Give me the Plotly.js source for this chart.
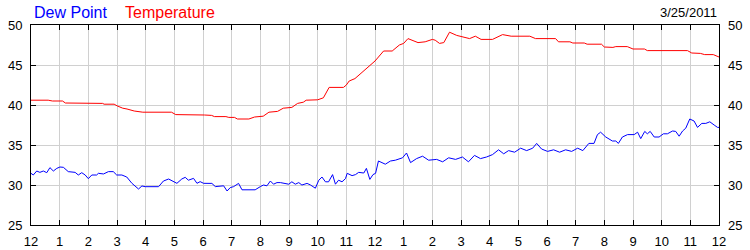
<!DOCTYPE html>
<html>
<head>
<meta charset="utf-8">
<script src="https://cdn.plot.ly/plotly-3.0.1.min.js"></script>
<style>html,body{margin:0;padding:0;background:#fff;}#chart{width:750px;height:250px;}</style>
</head>
<body>
<div id="chart"></div>
<script>
// Hour positions (0 = midnight) and their labels
const hourTicks = [0,1,2,3,4,5,6,7,8,9,10,11,12,13,14,15,16,17,18,19,20,21,22,23,24];
const hourLabels = ['12','1','2','3','4','5','6','7','8','9','10','11','12','1','2','3','4','5','6','7','8','9','10','11','12'];
const yTicks = [25,30,35,40,45,50];

// Temperature series (hours, °F)
const tempHours = [0,0.6,0.75,1.1,1.2,2.5,2.55,2.9,3.0,3.2,3.35,3.6,3.9,4.9,5.05,5.95,6.05,6.3,6.4,6.8,6.9,7.1,7.2,7.6,7.8,8.1,8.3,8.6,8.8,9.1,9.3,9.5,9.6,10.0,10.2,10.4,10.9,11.0,11.1,11.3,11.5,11.8,12.0,12.3,12.6,12.85,13.0,13.15,13.5,13.75,14.0,14.1,14.25,14.4,14.6,14.85,15.3,15.5,15.7,16.1,16.45,16.75,17.4,17.6,18.3,18.4,18.8,18.9,19.3,19.4,19.9,20.0,20.3,20.4,20.8,21.0,21.4,21.5,22.9,23.05,23.35,23.5,23.8,24.0];
const tempValues = [40.6,40.6,40.5,40.5,40.25,40.2,40.1,40.1,39.9,39.6,39.5,39.25,39.1,39.1,38.8,38.8,38.75,38.7,38.55,38.55,38.45,38.45,38.25,38.25,38.5,38.6,39.1,39.2,39.6,39.7,40.2,40.35,40.6,40.65,40.9,42.2,42.2,42.5,43.0,43.3,43.9,44.8,45.5,46.75,46.75,47.5,47.7,48.3,47.8,47.9,48.2,48.1,47.7,47.8,49.1,48.7,48.3,48.6,48.2,48.2,48.8,48.6,48.6,48.3,48.3,47.9,47.9,47.75,47.75,47.6,47.6,47.25,47.2,47.3,47.3,47.0,47.0,46.8,46.8,46.5,46.45,46.3,46.3,46.0];

// Dew point series (hours, °F)
const dewHours = [0,0.08,0.2,0.31,0.43,0.55,0.66,0.78,0.9,1.01,1.13,1.3,1.54,1.65,1.77,1.89,2.0,2.12,2.29,2.35,2.53,2.7,2.87,2.99,3.17,3.34,3.52,3.75,3.87,3.98,4.45,4.62,4.8,4.97,5.09,5.26,5.38,5.49,5.67,5.79,5.9,6.02,6.14,6.31,6.43,6.6,6.72,6.84,6.95,7.07,7.24,7.36,7.82,8.0,8.11,8.23,8.35,8.46,8.58,8.7,8.81,8.99,9.1,9.22,9.34,9.45,9.63,9.75,9.92,10.04,10.15,10.27,10.38,10.52,10.62,10.73,10.85,10.97,11.03,11.2,11.32,11.43,11.61,11.7,11.82,11.93,12.02,12.12,12.36,12.54,12.71,12.96,13.1,13.24,13.45,13.66,13.87,14.15,14.36,14.57,14.81,15.05,15.26,15.47,15.68,15.89,16.1,16.31,16.49,16.66,16.87,17.08,17.29,17.5,17.64,17.81,18.02,18.23,18.44,18.65,18.86,19.07,19.25,19.46,19.64,19.76,19.87,20.05,20.28,20.4,20.49,20.63,20.81,21.04,21.16,21.27,21.41,21.5,21.6,21.74,21.91,22.06,22.2,22.38,22.49,22.61,22.73,22.84,22.98,23.13,23.25,23.4,23.54,23.68,23.83,23.95,24.0];
const dewValues = [31.46,31.25,31.75,31.58,31.75,31.54,32.17,31.75,32.08,32.25,32.21,31.67,31.58,31.25,31.54,31.25,30.79,31.25,31.25,31.46,31.38,31.67,31.67,31.25,31.25,31.0,30.21,29.5,29.88,29.79,29.79,30.5,30.75,30.42,30.21,30.75,30.96,30.6,30.83,30.21,30.42,30.21,30.2,30.2,29.8,29.9,29.9,29.25,29.67,29.8,30.2,29.4,29.4,29.8,30.0,29.9,30.5,30.1,30.3,30.3,30.2,30.1,30.4,30.1,30.3,30.0,30.2,30.0,29.6,30.6,31.0,30.4,30.4,31.3,30.1,30.6,30.4,30.8,31.46,31.17,31.3,31.58,31.5,32.08,30.7,31.3,31.46,33.0,32.6,33.0,33.1,33.4,34.0,32.8,33.3,33.6,33.1,33.2,32.9,33.4,33.2,33.5,32.9,33.7,33.3,33.5,33.8,34.4,33.9,34.3,34.1,34.6,34.3,34.6,35.2,34.5,34.2,34.4,34.1,34.4,34.2,34.6,34.3,35.2,35.2,36.3,36.6,36.0,35.5,35.5,35.2,36.0,36.3,36.3,36.6,35.8,36.7,36.4,36.7,36.0,36.0,36.4,36.4,36.75,36.7,36.1,36.75,37.1,38.25,38.0,37.2,37.7,37.7,37.9,37.5,37.2,37.2];

const seriesNames = ['Dew Point','Temperature'];
const dateLabel = '3/25/2011';

const FONT = 'Liberation Sans, Arial, sans-serif';

const traces = [
  {x: dewHours, y: dewValues, type: 'scatter', mode: 'lines', name: seriesNames[0],
   line: {color: '#0000ff', width: 1}, hoverinfo: 'skip'},
  {x: tempHours, y: tempValues, type: 'scatter', mode: 'lines', name: seriesNames[1],
   line: {color: '#ff0000', width: 1}, hoverinfo: 'skip'}
];

const axisCommon = {
  showline: true, linecolor: '#000', linewidth: 1,
  ticks: 'inside', ticklen: 5, tickcolor: '#000', tickwidth: 1,
  zeroline: false, fixedrange: true,
  tickfont: {family: FONT, size: 13, color: '#000'}
};

const layout = {
  width: 750, height: 250,
  margin: {l: 31, r: 31, t: 25, b: 25, pad: 0},
  paper_bgcolor: '#fff', plot_bgcolor: '#fff',
  showlegend: false,
  font: {family: FONT, color: '#000'},
  xaxis: Object.assign({}, axisCommon, {
    range: [0, 24], tickmode: 'array', tickvals: hourTicks, ticktext: hourLabels,
    showgrid: true, gridcolor: '#d0d0d0', gridwidth: 1, mirror: 'ticks',
    ticklabelstandoff: 4
  }),
  yaxis: Object.assign({}, axisCommon, {
    range: [25, 50], tickmode: 'array', tickvals: yTicks,
    showgrid: true, gridcolor: '#d0d0d0', gridwidth: 1, mirror: 'ticks',
    ticklabelstandoff: 5
  }),
  yaxis2: Object.assign({}, axisCommon, {
    range: [25, 50], tickmode: 'array', tickvals: yTicks,
    overlaying: 'y', side: 'right', showgrid: false, showline: false, ticks: '',
    ticklabelstandoff: 8
  }),
  annotations: [
    {text: seriesNames[0], xref: 'paper', yref: 'paper', x: 0, y: 1.065, xanchor: 'left', yanchor: 'middle',
     xshift: 1, showarrow: false, font: {family: FONT, size: 16, color: '#0000ff'}},
    {text: seriesNames[1], xref: 'paper', yref: 'paper', x: (123 - 31) / 688, y: 1.065, xanchor: 'left', yanchor: 'middle',
     showarrow: false, font: {family: FONT, size: 16, color: '#ff0000'}},
    {text: dateLabel, xref: 'paper', yref: 'paper', x: 1, y: 1.065, xanchor: 'right', yanchor: 'middle',
     showarrow: false, font: {family: FONT, size: 13, color: '#000'}}
  ]
};

// invisible trace to anchor the right-hand axis
traces.push({x: [0], y: [25], yaxis: 'y2', type: 'scatter', mode: 'markers', marker: {opacity: 0}, hoverinfo: 'skip', showlegend: false});

Plotly.newPlot('chart', traces, layout, {staticPlot: true, displayModeBar: false});
</script>
</body>
</html>
